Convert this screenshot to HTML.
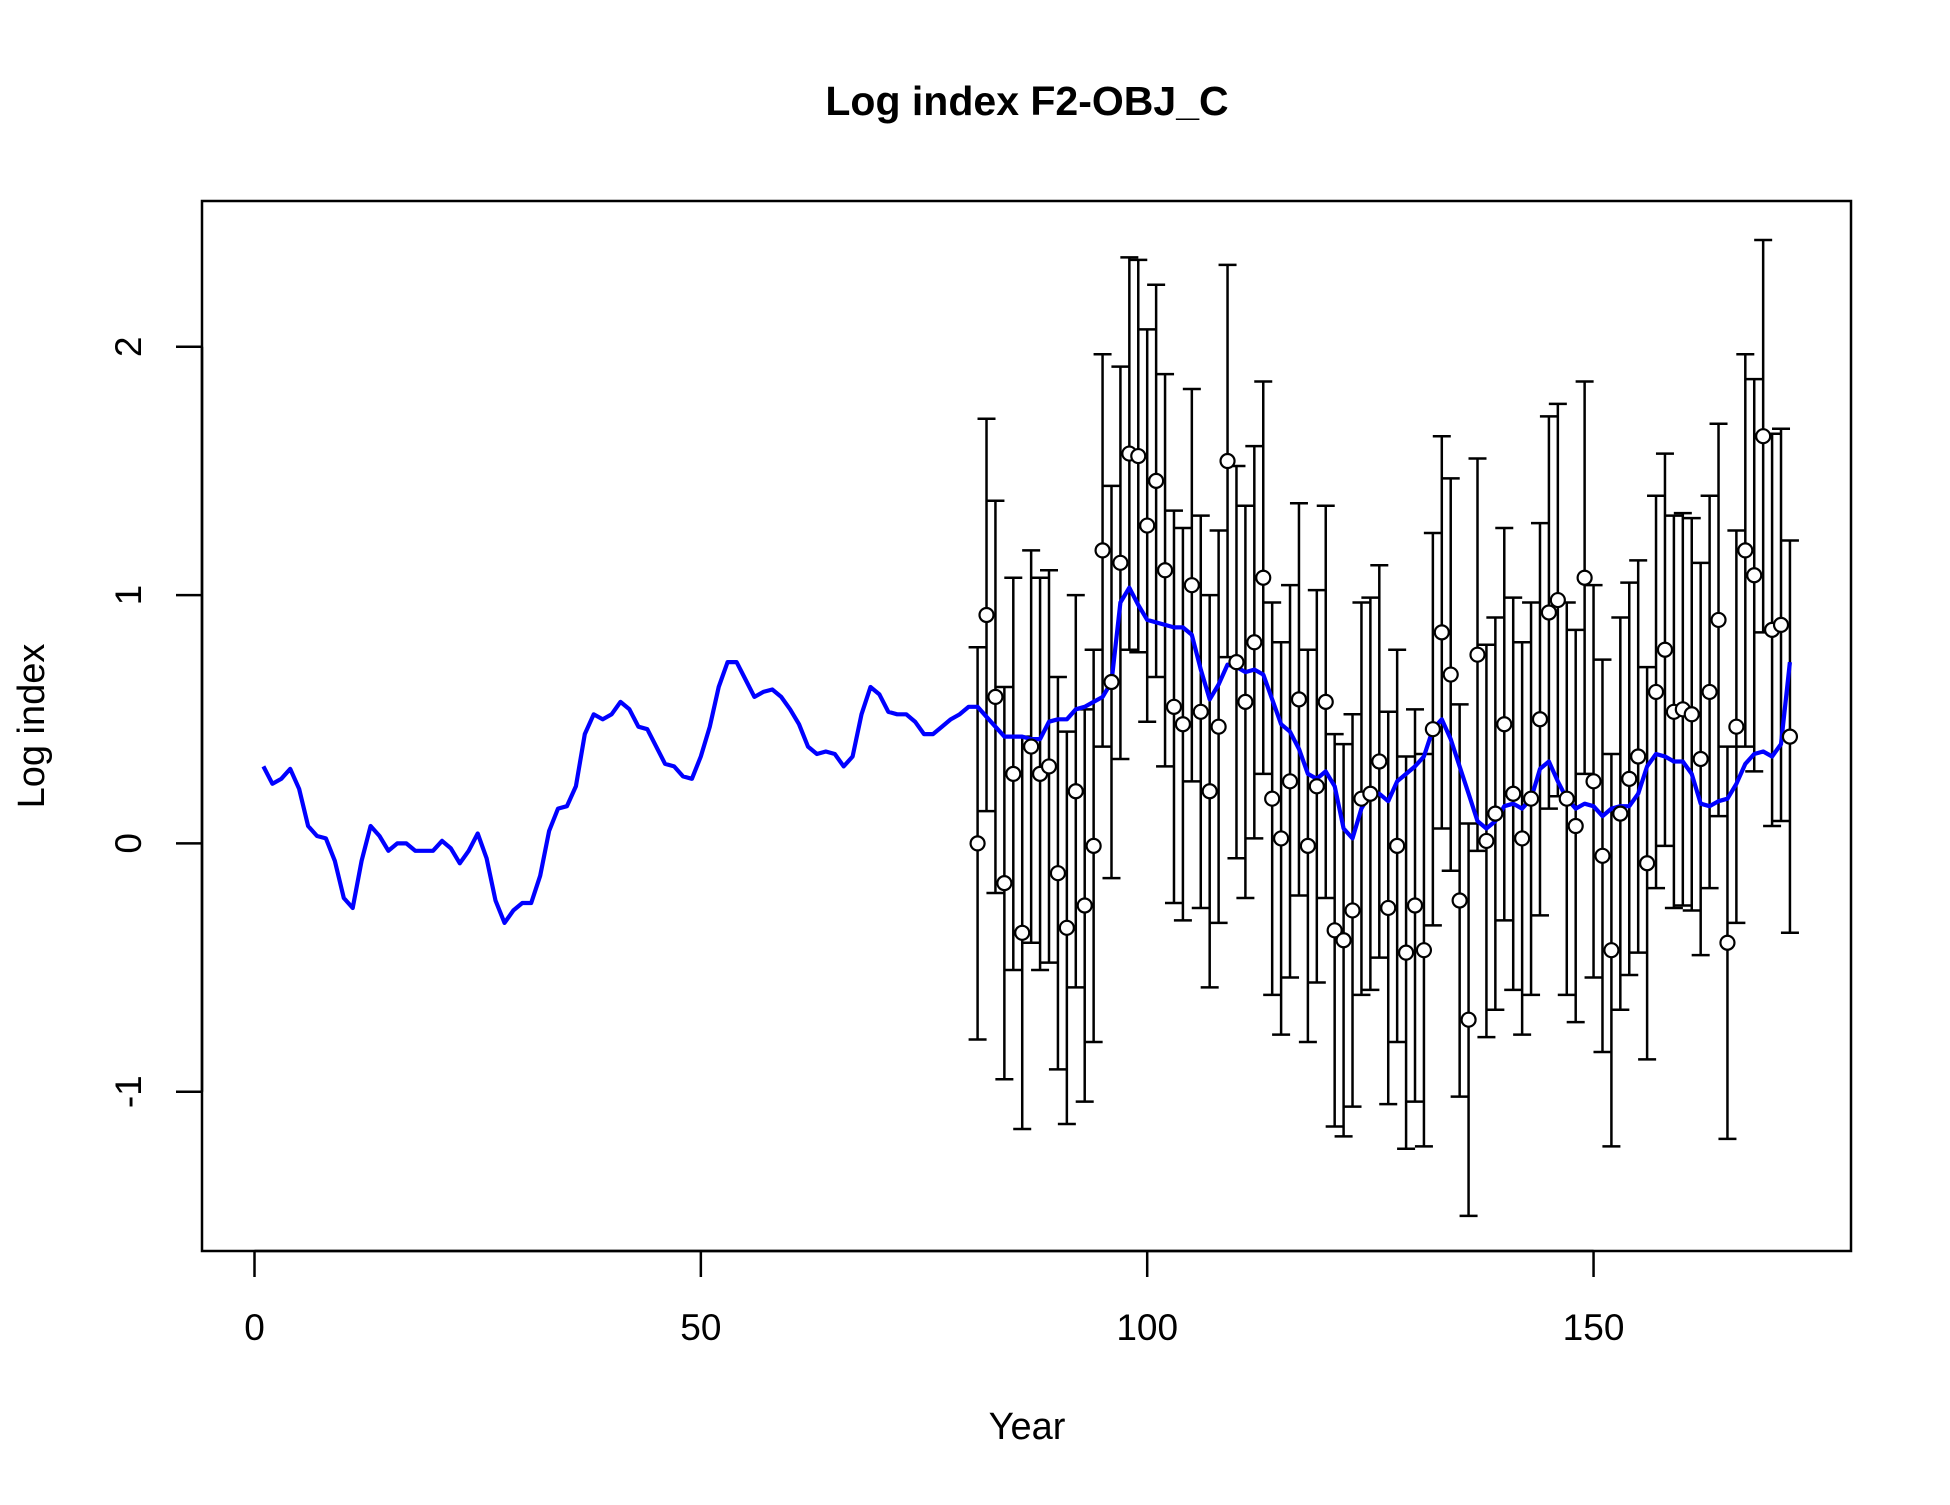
<!DOCTYPE html>
<html><head><meta charset="utf-8"><style>
html,body{margin:0;padding:0;background:#fff;}
svg text{font-family:"Liberation Sans",Arial,sans-serif;}
</style></head><body>
<svg id="chart" width="1950" height="1500" viewBox="0 0 1950 1500" xmlns="http://www.w3.org/2000/svg">
<rect width="1950" height="1500" fill="#fff"/>
<text x="1027" y="115" text-anchor="middle" font-size="41" font-weight="bold">Log index F2-OBJ_C</text>
<rect x="202" y="201" width="1649" height="1050" fill="none" stroke="#000" stroke-width="2.5"/>
<g id="xaxis"></g>
<g id="yaxis"></g>
<text x="1027" y="1439" text-anchor="middle" font-size="38">Year</text>
<text x="0" y="0" transform="translate(44,726) rotate(-90)" text-anchor="middle" font-size="38">Log index</text>
<g id="bars"></g>
<g id="line"></g>
<g id="pts"></g>
</svg>
<script>
const xTicks = [0, 50, 100, 150];
const yTicks = [-1, 0, 1, 2];
const predYears0 = 1;
const predicted = [0.31,0.24,0.26,0.30,0.22,0.07,0.03,0.02,-0.07,-0.22,-0.26,-0.07,0.07,0.03,-0.03,0.00,0.00,-0.03,-0.03,-0.03,0.01,-0.02,-0.08,-0.03,0.04,-0.06,-0.23,-0.32,-0.27,-0.24,-0.24,-0.13,0.05,0.14,0.15,0.23,0.44,0.52,0.50,0.52,0.57,0.54,0.47,0.46,0.39,0.32,0.31,0.27,0.26,0.35,0.47,0.63,0.73,0.73,0.66,0.59,0.61,0.62,0.59,0.54,0.48,0.39,0.36,0.37,0.36,0.31,0.35,0.52,0.63,0.60,0.53,0.52,0.52,0.49,0.44,0.44,0.47,0.50,0.52,0.55,0.55,0.51,0.47,0.43,0.43,0.43,0.42,0.42,0.49,0.50,0.50,0.54,0.55,0.57,0.59,0.65,0.97,1.03,0.96,0.90,0.89,0.88,0.87,0.87,0.84,0.70,0.58,0.64,0.72,0.71,0.69,0.70,0.68,0.58,0.48,0.45,0.38,0.28,0.26,0.29,0.23,0.06,0.02,0.14,0.20,0.20,0.17,0.25,0.28,0.31,0.35,0.46,0.50,0.42,0.31,0.20,0.09,0.06,0.09,0.15,0.16,0.14,0.18,0.30,0.33,0.25,0.18,0.14,0.16,0.15,0.11,0.14,0.15,0.15,0.20,0.31,0.36,0.35,0.33,0.33,0.28,0.16,0.15,0.17,0.18,0.24,0.32,0.36,0.37,0.35,0.40,0.73];
const obsYear0 = 81;
const observed = [0.00,0.92,0.59,-0.16,0.28,-0.36,0.39,0.28,0.31,-0.12,-0.34,0.21,-0.25,-0.01,1.18,0.65,1.13,1.57,1.56,1.28,1.46,1.10,0.55,0.48,1.04,0.53,0.21,0.47,1.54,0.73,0.57,0.81,1.07,0.18,0.02,0.25,0.58,-0.01,0.23,0.57,-0.35,-0.39,-0.27,0.18,0.20,0.33,-0.26,-0.01,-0.44,-0.25,-0.43,0.46,0.85,0.68,-0.23,-0.71,0.76,0.01,0.12,0.48,0.20,0.02,0.18,0.50,0.93,0.98,0.18,0.07,1.07,0.25,-0.05,-0.43,0.12,0.26,0.35,-0.08,0.61,0.78,0.53,0.54,0.52,0.34,0.61,0.90,-0.40,0.47,1.18,1.08,1.64,0.86,0.88,0.43];
const halfWidth = [0.79];

const NS = "http://www.w3.org/2000/svg";
const X = v => 254.5 + v * 8.927;
const Y = v => 843.4 - v * 248.3;
function mk(tag, attrs, parent){ const e=document.createElementNS(NS,tag); for(const k in attrs) e.setAttribute(k,attrs[k]); parent.appendChild(e); return e; }

const xa = document.getElementById('xaxis');
mk('line',{x1:X(xTicks[0]),x2:X(xTicks[xTicks.length-1]),y1:1251,y2:1251,stroke:'#000','stroke-width':2.5},xa);
xTicks.forEach(t=>{
  const l=mk('line',{x1:X(t),x2:X(t),y1:1251,y2:1277,stroke:'#000','stroke-width':2.5},xa);
  
  
  const tx=mk('text',{x:X(t),y:1340,'text-anchor':'middle','font-size':37},xa);
  tx.textContent=t;
  
  
});
const ya = document.getElementById('yaxis');
mk('line',{x1:202,x2:202,y1:Y(yTicks[0]),y2:Y(yTicks[yTicks.length-1]),stroke:'#000','stroke-width':2.5},ya);
yTicks.forEach(t=>{
  const l=mk('line',{x1:176,x2:202,y1:Y(t),y2:Y(t),stroke:'#000','stroke-width':2.5},ya);
  
  
  const tx=mk('text',{x:0,y:0,transform:`translate(141,${Y(t)}) rotate(-90)`,'text-anchor':'middle','font-size':37},ya);
  tx.textContent=t;
  
  
});

const bars=document.getElementById('bars');
observed.forEach((v,i)=>{
  const x=X(obsYear0+i), hw=halfWidth[i % halfWidth.length];
  const g=mk('g',{},bars);
  
  
  mk('line',{x1:x,x2:x,y1:Y(v-hw),y2:Y(v+hw),stroke:'#000','stroke-width':2.5},g);
  mk('line',{x1:x-9,x2:x+9,y1:Y(v-hw),y2:Y(v-hw),stroke:'#000','stroke-width':2.5},g);
  mk('line',{x1:x-9,x2:x+9,y1:Y(v+hw),y2:Y(v+hw),stroke:'#000','stroke-width':2.5},g);
});

const lg=document.getElementById('line');
const p=mk('polyline',{points:predicted.map((v,i)=>X(predYears0+i).toFixed(1)+','+Y(v).toFixed(1)).join(' '),fill:'none',stroke:'#0000ff','stroke-width':4.2,'stroke-linejoin':'round'},lg);



const pts=document.getElementById('pts');
observed.forEach((v,i)=>{
  const c=mk('circle',{cx:X(obsYear0+i),cy:Y(v),r:7,fill:'#fff',stroke:'#000','stroke-width':2.2},pts);
  
  
});
</script>
</body></html>
